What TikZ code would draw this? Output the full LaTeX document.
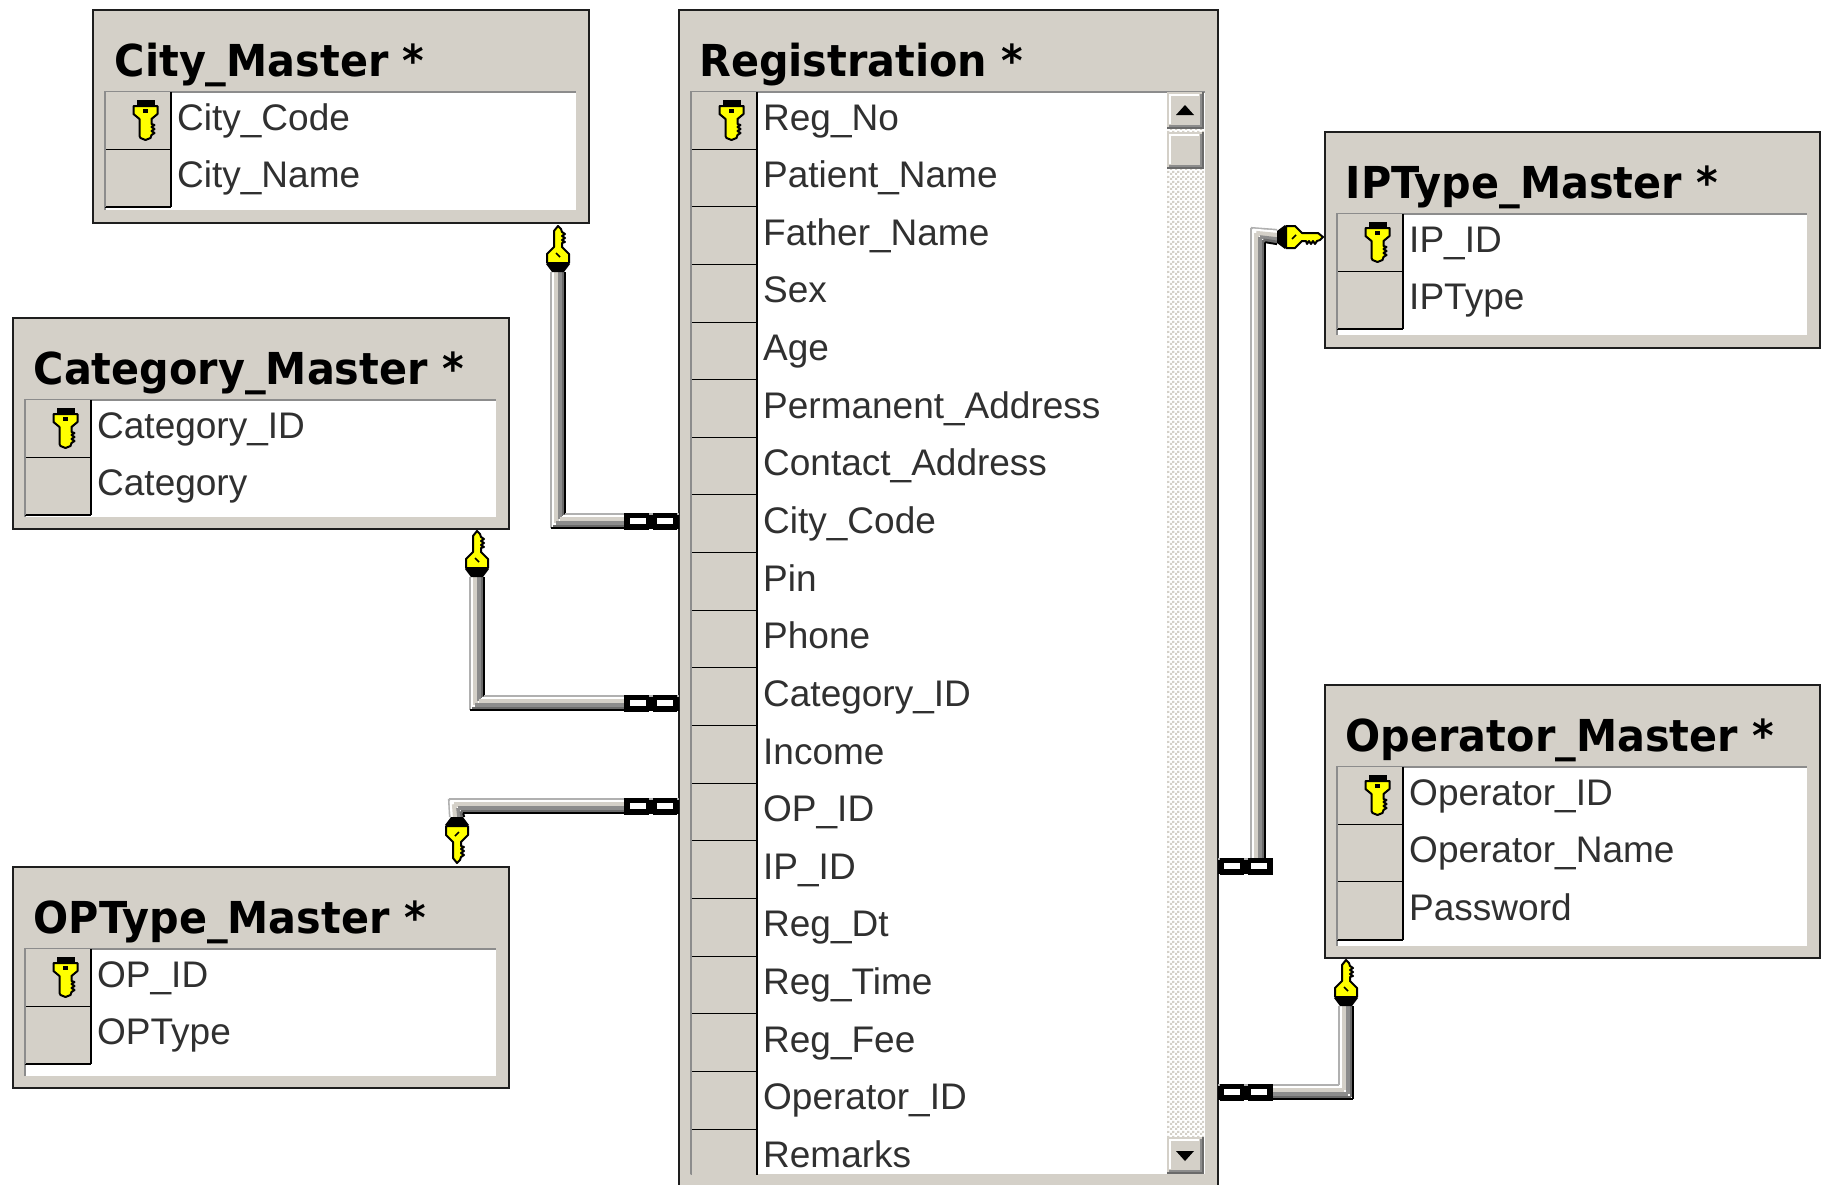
\documentclass[tikz,border=0pt]{standalone}
\usepackage{fontspec}
\usetikzlibrary{calc,patterns}
\setmainfont{Liberation Sans}
\newfontfamily\titlefont[FakeStretch=0.94]{DejaVu Sans Bold}
\definecolor{beige}{HTML}{D4D0C8}
\definecolor{dgray}{HTML}{8C8C8C}
\definecolor{lgray}{HTML}{B0B0B0}
\definecolor{ddark}{HTML}{6A6A6A}
\definecolor{frame}{HTML}{1E1E1E}
\definecolor{fieldink}{HTML}{303030}
\definecolor{keyyellow}{HTML}{FFFF00}
\pgfdeclarepatternformonly{ditherck}{\pgfqpoint{0pt}{0pt}}{\pgfqpoint{5pt}{5pt}}{\pgfqpoint{5pt}{5pt}}{%
  \pgfpathrectangle{\pgfpointorigin}{\pgfqpoint{2.5pt}{2.5pt}}%
  \pgfpathrectangle{\pgfqpoint{2.5pt}{2.5pt}}{\pgfqpoint{2.5pt}{2.5pt}}%
  \pgfusepath{fill}}
\tikzset{
  tablebox/.style={draw=frame,line width=2.4pt,fill=beige,anchor=north west,inner sep=0pt,outer sep=0pt},
  titletext/.style={anchor=base west,inner sep=0pt,font=\titlefont\fontsize{44}{44}\selectfont},
  fieldtext/.style={anchor=base west,inner sep=0pt,text=fieldink,font=\fontsize{37}{37}\selectfont},
  gutterbox/.style={anchor=north west,fill=beige,inner sep=0pt,outer sep=0pt},
  pics/pkkey/.style={code={
    \fill[black] (-9,0) rectangle (9,8);
    \filldraw[fill=keyyellow,draw=black,line width=2pt,line join=round]
      (-12,6)--(12,6)--(12,14)--(6,19)--(6,24)--(9,25)--(6,27)--(9,29)--(6,31)--(9,33)--(6,35)--(5,38)--(0,40)--(-5,38)--(-6,36)--(-6,19)--(-12,14)--cycle;
    \fill[black] (-2.5,9) rectangle (2.5,13);
  }},
  pics/linkkey/.style={code={
    \fill[black] (-6,0)--(6,0)--(12,8)--(-12,8)--cycle;
    \filldraw[fill=keyyellow,draw=black,line width=2pt,line join=round]
      (-11,9)--(11,9)--(11,18)--(4,25)--(4,29)--(7,30)--(4,32)--(7,34)--(4,36)--(7,38)--(4,40)--(3,43)--(0,46)--(-4,41)--(-4,25)--(-11,18)--cycle;
    \draw[black,line width=1.5pt] (-2,19)--(2,15);
  }},
  pics/chainlink/.style={code={
    \fill[black] (0,-6.5) rectangle (55,6.5);
    \fill[black] (2,-8.5) rectangle (26,8.5);
    \fill[black] (30,-8.5) rectangle (55,8.5);
    \fill[white] (6,-3.2) rectangle (22,3.2);
    \fill[white] (33,-3.2) rectangle (49,3.2);
  }}
}
% pipe stripes: offset / width / colour
\newcommand\stripelist{-7.1/2/lgray,-5.1/2.6/white,-1.8/4.6/beige,2/3.6/dgray,5.3/3.6/ddark,7.2/1.9/black}
\newcommand\pipeV[3]{\foreach \sto/\stw/\stc in \stripelist {\draw[line width=\stw pt,draw=\stc] ($(#1)+(\sto,0)$) -- ($(#2)+(\sto,{#3*\sto})$);}}
\newcommand\pipeH[3]{\foreach \sto/\stw/\stc in \stripelist {\draw[line width=\stw pt,draw=\stc] ($(#1)+(0,\sto)$) -- ($(#2)+({#3*\sto},\sto)$);}}
% name, title, x0, y0, w, h, inner h, fields, title offset
\newcommand\dbtable[9]{%
  \node[tablebox,minimum width=#5pt,minimum height=#6pt] (#1) at (#3,#4) {};
  \node[titletext] (#1title) at ($(#1.north west)+(#9,66)$) {#2};
  \coordinate (#1in) at ($(#1.north west)+(11.5,82)$);
  \fill[white] (#1in) rectangle ($(#1in)+({#5-25},#7)$);
  \draw[dgray,line width=2pt] ($(#1in)+(0,#7)$) -- (#1in) -- ($(#1in)+({#5-25},0)$);
  \begin{scope}
    \clip (#1in) rectangle ($(#1in)+({#5-25},#7)$);
    \foreach \fld [count=\n from 0] in {#8} {
      \node[gutterbox,minimum width=65.5pt,minimum height=57.65pt] (#1g\n) at ($(#1in)+(0.5,{\n*57.64})$) {};
      \draw[black,line width=2pt] (#1g\n.south west) -- (#1g\n.south east);
      \draw[black,line width=2pt] (#1g\n.north east) -- (#1g\n.south east);
      \draw[dgray,line width=2pt] (#1g\n.north west) -- (#1g\n.south west);
      \node[fieldtext] (#1f\n) at ($(#1g\n.north east)+(6.5,38)$) {\fld};
    }
  \end{scope}
  \pic at ($(#1g0.north west)+(40.5,8)$) {pkkey};
}
\begin{document}
\begin{tikzpicture}[x=1pt,y=-1pt]
\useasboundingbox (0,0) rectangle (1826,1184);
\clip (0,0) rectangle (1826,1184);
\fill[white] (0,0) rectangle (1826,1184);

% tables
\dbtable{city}{City\_Master *}{93}{10}{496}{213}{118}{City\_Code,City\_Name}{21.5}
\dbtable{category}{Category\_Master *}{13}{318}{496}{211}{117}{Category\_ID,Category}{20.5}
\dbtable{optype}{OPType\_Master *}{13}{867}{496}{221}{127}{OP\_ID,OPType}{20.5}
\dbtable{iptype}{IPType\_Master *}{1325}{132}{495}{216}{121}{IP\_ID,IPType}{20.5}
\dbtable{operator}{Operator\_Master *}{1325}{685}{495}{273}{179}{Operator\_ID,Operator\_Name,Password}{20.5}
\dbtable{reg}{Registration *}{679}{10}{539}{1190}{1082}{Reg\_No,Patient\_Name,Father\_Name,Sex,Age,Permanent\_Address,Contact\_Address,City\_Code,Pin,Phone,Category\_ID,Income,OP\_ID,IP\_ID,Reg\_Dt,Reg\_Time,Reg\_Fee,Operator\_ID,Remarks}{20}

% scroll bar
\fill[white] (1167,92) rectangle (1204,1174);
\fill[pattern=ditherck,pattern color=beige] (1167,92) rectangle (1204,1174);
\foreach \nm/\ya/\yb in {up/92/129,thumb/132/169,down/1137/1174} {
  \fill[beige] (1167,\ya) rectangle (1204,\yb);
  \draw[white,line width=2pt] (1170,\yb-5) -- (1170,\ya+3) -- (1199,\ya+3);
  \draw[dgray,line width=2pt] (1169,\yb-3) -- (1201,\yb-3) -- (1201,\ya+2);
  \draw[ddark,line width=2pt] (1167,\yb-1) -- (1203,\yb-1) -- (1203,\ya);
}
\fill[black] (1185,105) -- (1194,115) -- (1176,115) -- cycle;
\fill[black] (1185,1161) -- (1194,1151) -- (1176,1151) -- cycle;

% connector end points
\coordinate (cityWall) at (reg.west |- 0,521);
\coordinate (cityBend) at (558,521);
\coordinate (cityKey) at (558,272);
\coordinate (catWall) at (reg.west |- 0,703);
\coordinate (catBend) at (477,703);
\coordinate (catKey) at (477,577);
\coordinate (opWall) at (reg.west |- 0,806);
\coordinate (opBend) at (456,806);
\coordinate (opKey) at (457,817);
\coordinate (ipWall) at (reg.east |- 0,866);
\coordinate (ipBendA) at (1258,866);
\coordinate (ipBendB) at (1258,235);
\coordinate (ipKey) at (1277,237);
\coordinate (oprWall) at (reg.east |- 0,1092);
\coordinate (oprBend) at (1346,1092);
\coordinate (oprKey) at (1346,1006);

% connectors
\pipeV{cityKey}{cityBend}{-1}
\pipeH{cityWall}{cityBend}{-1}
\pipeV{catKey}{catBend}{-1}
\pipeH{catWall}{catBend}{-1}
\pipeV{opKey}{opBend}{1}
\pipeH{opWall}{opBend}{1}
\pipeV{ipBendA}{ipBendB}{1}
\pipeH{ipKey}{ipBendB}{1}
\pipeH{ipWall}{ipBendA}{1}
\pipeH{oprWall}{oprBend}{1}
\pipeV{oprKey}{oprBend}{1}

% chain ends
\pic[xscale=-1] at (cityWall) {chainlink};
\pic[xscale=-1] at (catWall) {chainlink};
\pic[xscale=-1] at (opWall) {chainlink};
\pic at (ipWall) {chainlink};
\pic at (oprWall) {chainlink};

% key ends
\pic[yscale=-1] at (cityKey) {linkkey};
\pic[yscale=-1] at (catKey) {linkkey};
\pic at (opKey) {linkkey};
\pic[yscale=-1] at (oprKey) {linkkey};
\pic[cm={0,-1,-1,0,(0,0)}] at (ipKey) {linkkey};
\end{tikzpicture}
\end{document}
